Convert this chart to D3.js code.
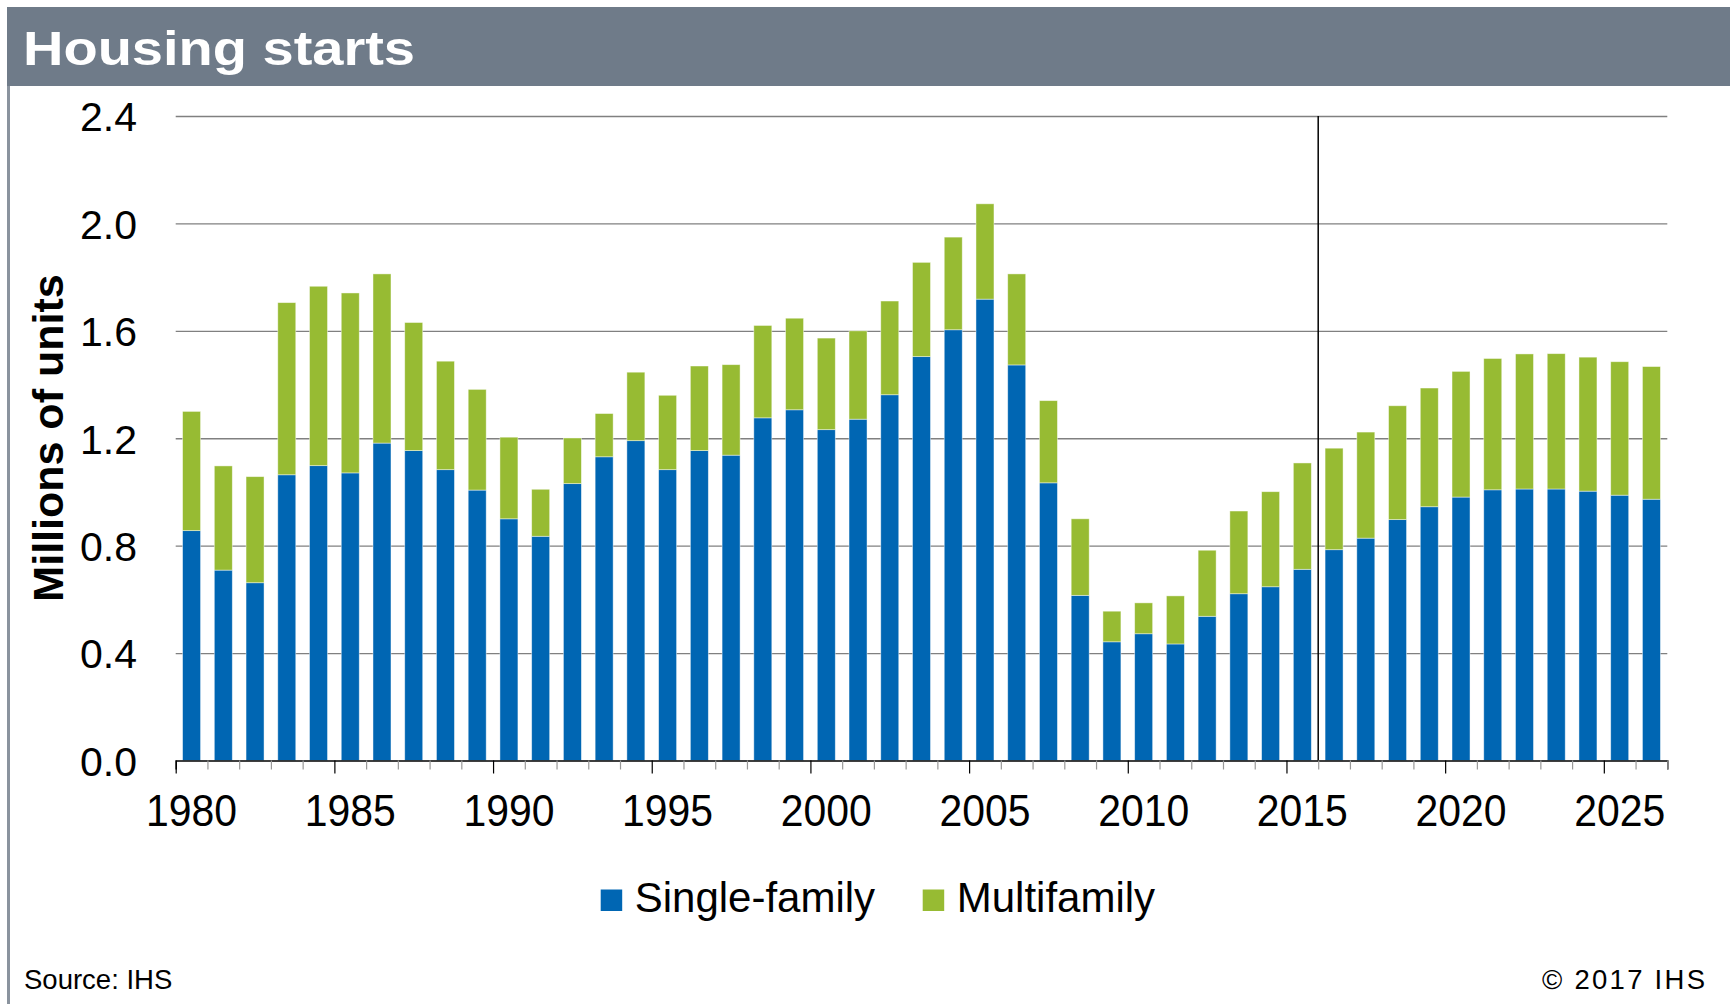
<!DOCTYPE html>
<html>
<head>
<meta charset="utf-8">
<script src="https://cdn.jsdelivr.net/npm/d3@7"></script>
<style>
  body { margin: 0; background: #fff; }
  svg { display: block; font-family: "Liberation Sans", Arial, sans-serif; }
</style>
</head>
<body>
<svg id="chart" width="1730" height="1004"></svg>
<script>
// Housing starts, millions of units
const years = d3.range(1980, 2027);
const singleFamily = [
  0.856, 0.709, 0.662, 1.064, 1.098, 1.071, 1.182, 1.154, 1.083, 1.007,
  0.900, 0.835, 1.031, 1.131, 1.191, 1.083, 1.154, 1.137, 1.276, 1.306,
  1.232, 1.271, 1.362, 1.504, 1.604, 1.718, 1.473, 1.034, 0.615, 0.442,
  0.472, 0.434, 0.537, 0.621, 0.647, 0.712, 0.785, 0.828, 0.897, 0.945,
  0.981, 1.008, 1.011, 1.011, 1.003, 0.988, 0.973
];
const multiFamily = [
  0.444, 0.388, 0.395, 0.641, 0.668, 0.670, 0.630, 0.477, 0.404, 0.375,
  0.304, 0.175, 0.170, 0.161, 0.255, 0.277, 0.315, 0.337, 0.344, 0.341,
  0.341, 0.329, 0.349, 0.351, 0.345, 0.355, 0.339, 0.306, 0.285, 0.114,
  0.115, 0.179, 0.246, 0.308, 0.354, 0.396, 0.378, 0.395, 0.424, 0.442,
  0.468, 0.489, 0.503, 0.504, 0.499, 0.497, 0.494
];
const seriesNames = ["Single-family", "Multifamily"];
const seriesColors = ["#0066b3", "#97bb33"];
const yTicks = [0, 0.4, 0.8, 1.2, 1.6, 2.0, 2.4];
const labelYears = [1980, 1985, 1990, 1995, 2000, 2005, 2010, 2015, 2020, 2025];
const forecastStart = 2016;

const svg = d3.select("#chart");

// frame: title band + left rule
svg.append("rect")
  .attr("x", 7).attr("y", 7)
  .attr("width", 1723).attr("height", 79)
  .attr("fill", "#6f7b89");
svg.append("rect")
  .attr("x", 7).attr("y", 86)
  .attr("width", 3).attr("height", 918)
  .attr("fill", "#8a939e");
svg.append("text")
  .attr("x", 23).attr("y", 65)
  .attr("fill", "#fff")
  .attr("font-size", 48)
  .attr("font-weight", "bold")
  .attr("textLength", 392)
  .attr("lengthAdjust", "spacingAndGlyphs")
  .text("Housing starts");

const plotLeft = 175.7, plotRight = 1667.3, plotTop = 116, plotBottom = 760.5;

let x = d3.scaleBand()
  .domain(years)
  .range([plotLeft, plotRight])
  .paddingInner(0.433)
  .paddingOuter(0.2165);

let xIdx = d3.scaleLinear().domain([0, years.length]).range([plotLeft, plotRight]);

let y = d3.scaleLinear().domain([0, 2.4]).range([plotBottom, plotTop]);

// gridlines
svg.append("g")
  .attr("transform", `translate(${plotLeft},0)`)
  .call(d3.axisLeft(y).tickValues(yTicks.slice(1)).tickSize(-(plotRight - plotLeft)).tickFormat(""))
  .call(g => g.select(".domain").remove())
  .call(g => g.selectAll("line").attr("stroke", "#808080").attr("stroke-width", 1.3))
;

// y labels
svg.append("g")
  .attr("transform", "translate(137,0)")
  .call(d3.axisLeft(y).tickValues(yTicks).tickSize(0).tickPadding(0).tickFormat(d3.format(".1f")))
  .call(g => g.select(".domain").remove())
  .call(g => g.selectAll("text")
    .attr("font-size", 41)
    .attr("font-family", "Liberation Sans, Arial, sans-serif")
    .attr("fill", "#000")
    .attr("dy", "0.36em"))
;

// stacked bars
let rows = years.map((yr, i) => ({year: yr, sf: singleFamily[i], mf: multiFamily[i]}));
let stack = d3.stack().keys(["sf", "mf"])(rows);

svg.append("g").selectAll("g")
  .data(stack)
  .enter()
  .append("g")
  .attr("fill", (d, i) => seriesColors[i])
  .selectAll("rect")
  .data(d => d)
  .enter()
  .append("rect")
  .attr("x", d => x(d.data.year))
  .attr("width", x.bandwidth())
  .attr("y", d => y(d[1]))
  .attr("height", d => y(d[0]) - y(d[1]))
  .attr("stroke", "rgba(255,255,255,0.55)")
  .attr("stroke-width", 0.8)
;

// forecast divider
let divX = xIdx(years.indexOf(forecastStart));
svg.append("line")
  .attr("x1", divX).attr("x2", divX)
  .attr("y1", y(2.4)).attr("y2", y(0))
  .attr("stroke", "#000")
  .attr("stroke-width", 1.5);

// x axis: boundary ticks, longer every 5 years
let xAxis = svg.append("g")
  .attr("transform", `translate(0,${plotBottom})`)
  .call(d3.axisBottom(xIdx).tickValues(d3.range(0, years.length + 1)).tickSize(9).tickFormat(""))
;
xAxis.select(".domain").attr("stroke", "#000").attr("stroke-width", 1.5);
xAxis.selectAll(".tick line")
  .attr("stroke", d => d % 5 === 0 ? "#000" : "#999")
  .attr("y2", d => d % 5 === 0 ? 13 : 9)
  .attr("stroke-width", 1.2);

// year labels
svg.append("g")
  .attr("transform", `translate(0,${plotBottom})`)
  .call(d3.axisBottom(x).tickValues(labelYears).tickSize(0).tickPadding(0))
  .call(g => g.select(".domain").remove())
  .call(g => g.selectAll("text")
    .attr("font-size", 44)
    .attr("font-family", "Liberation Sans, Arial, sans-serif")
    .attr("fill", "#000")
    .attr("dy", null)
    .attr("y", 65)
    .attr("textLength", 91)
    .attr("lengthAdjust", "spacingAndGlyphs"))
;

// y axis title
svg.append("text")
  .attr("transform", "translate(63,438) rotate(-90)")
  .attr("text-anchor", "middle")
  .attr("font-size", 43)
  .attr("font-weight", "bold")
  .attr("fill", "#000")
  .text("Millions of units");

// legend
let legendX = [600.7, 922.7];
let legend = svg.append("g").selectAll("g")
  .data(seriesNames)
  .enter()
  .append("g")
  .attr("transform", (d, i) => `translate(${legendX[i]},889.5)`);
legend.append("rect")
  .attr("width", 21.5).attr("height", 21.5)
  .attr("fill", (d, i) => seriesColors[i]);
legend.append("text")
  .attr("x", 34).attr("y", 22)
  .attr("font-size", 42)
  .attr("fill", "#000")
  .text(d => d);

// footer
svg.append("text")
  .attr("x", 24).attr("y", 989)
  .attr("font-size", 27.5)
  .attr("fill", "#000")
  .text("Source: IHS");
svg.append("text")
  .attr("x", 1705).attr("y", 989)
  .attr("text-anchor", "end")
  .attr("font-size", 27.5)
  .attr("fill", "#000")
  .attr("textLength", 163)
  .attr("lengthAdjust", "spacing")
  .text("\u00a9 2017 IHS");
</script>
</body>
</html>
